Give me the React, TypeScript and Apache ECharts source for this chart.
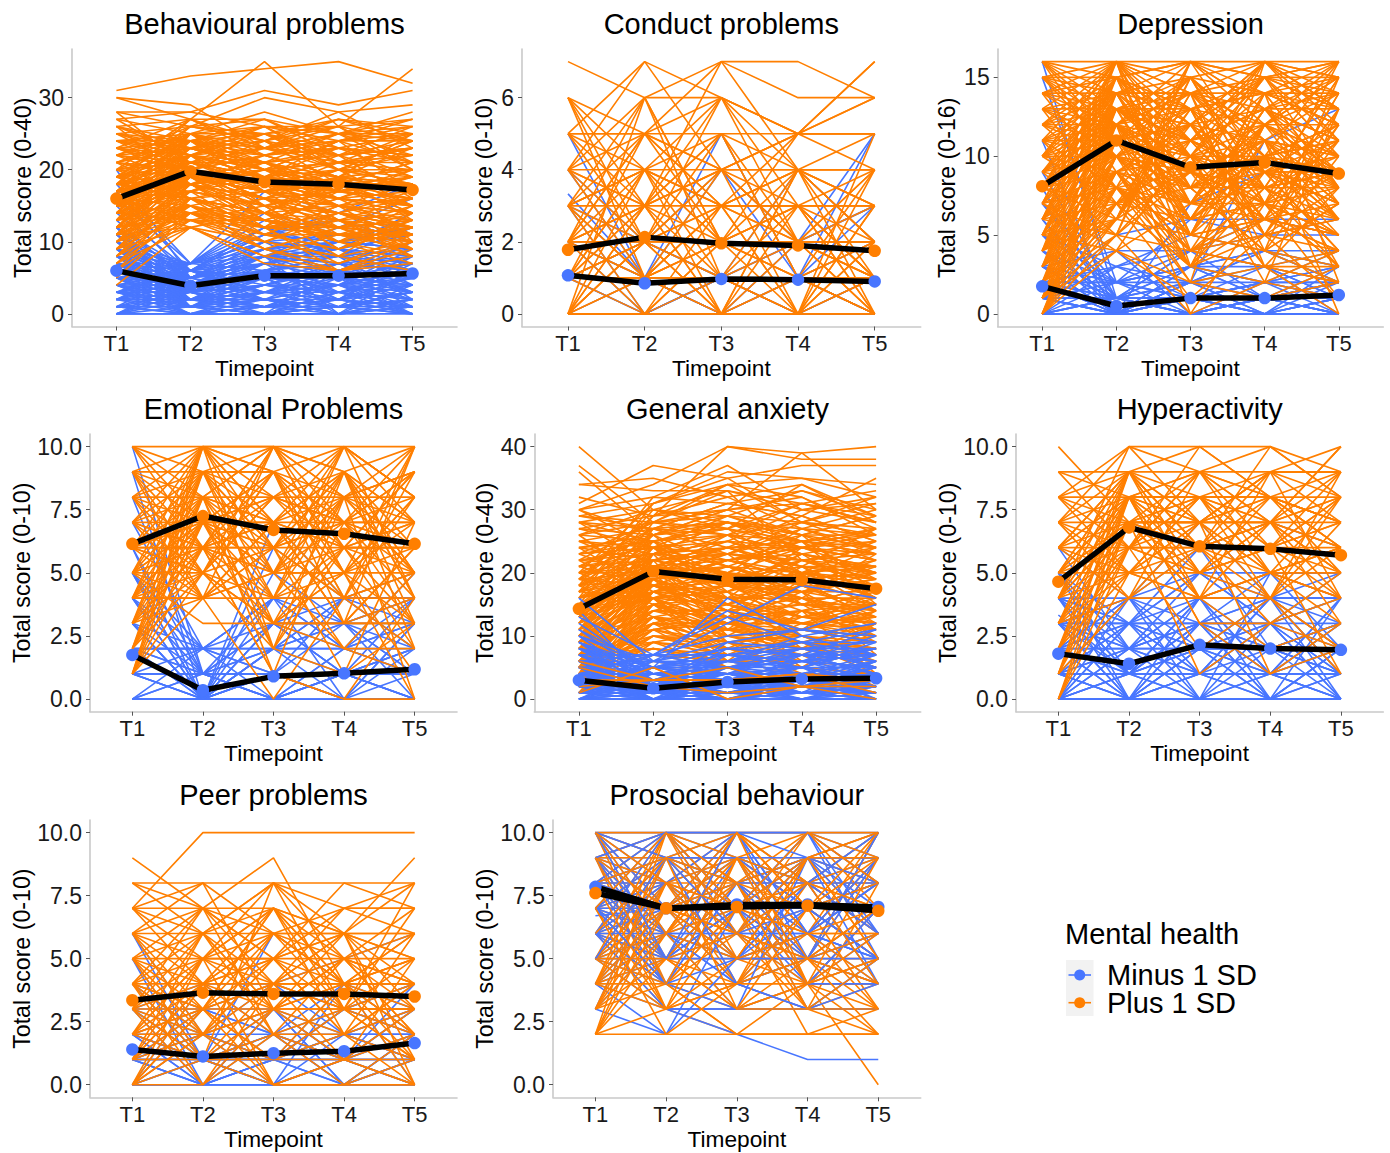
import React, { useEffect, useRef } from "react";
import * as echarts from "echarts";

const timepoints = ["T1", "T2", "T3", "T4", "T5"];
const groupNames = ["Minus 1 SD", "Plus 1 SD"];
const legendTitle = "Mental health";
const xTitle = "Timepoint";

const behaviouralMinus = [[0,0,0,0,0],[0,1,0,1,0],[1,0,1,0,1],[1,1,2,1,0],[2,0,1,1,2],[2,1,0,2,1],[3,1,2,0,1],[3,2,1,3,2],[4,1,3,2,1],[4,2,3,4,3],[5,2,4,3,5],[5,3,2,4,4],[6,3,5,4,6],[6,2,4,6,5],[7,3,6,5,4],[7,4,5,7,6],[8,3,7,6,8],[8,4,6,5,7],[9,4,8,7,6],[9,5,7,9,8],[10,4,6,8,9],[10,5,9,8,7],[11,5,8,10,9],[11,6,7,6,10],[12,5,10,9,8],[12,6,9,11,10],[13,4,7,8,12],[14,6,11,10,9],[15,5,8,12,11],[16,7,10,9,14],[17,6,12,13,10],[18,7,14,11,12],[20,5,9,10,13],[6,7,17,14,18],[5,7,13,12,16],[4,6,11,14,11],[3,5,9,7,10],[2,4,8,9,7],[1,3,5,6,9],[0,2,4,3,6],[0,3,1,2,3],[1,2,3,5,4],[2,3,6,3,2],[3,4,2,1,3],[4,3,1,5,2],[5,4,7,2,8],[6,5,3,6,1],[7,5,8,3,5],[8,6,2,4,0],[9,6,10,5,3],[10,6,3,7,4],[5,1,0,1,2],[4,0,2,0,1],[3,0,3,2,0],[2,2,5,0,4],[1,0,0,3,5],[6,1,4,2,7],[7,2,6,8,2],[8,1,5,1,3],[9,2,1,4,6],[10,3,4,3,1],[11,2,7,5,0],[12,3,0,6,3],[6,4,9,10,12],[5,5,10,11,9],[7,6,12,8,7],[8,7,11,13,10],[4,4,8,0,6],[3,3,4,7,8],[2,5,7,9,11],[0,0,1,2,1],[1,1,0,0,2],[2,2,2,1,3],[3,1,1,2,4],[4,2,0,3,0],[5,1,3,1,3],[6,2,2,0,2],[7,1,4,4,1],[8,2,3,3,4],[9,1,2,2,5],[10,2,5,4,2],[11,3,1,1,6],[12,1,6,2,4],[0,4,3,4,5],[1,4,6,7,3],[2,6,8,8,6],[3,6,5,5,7],[4,5,6,4,9],[5,6,4,7,3],[6,3,8,9,4],[7,7,9,6,8],[8,5,7,10,11],[9,7,8,5,10],[10,7,12,9,6],[0,5,2,6,7],[1,6,3,4,8],[2,7,6,10,9],[3,7,10,8,5],[4,0,0,1,1],[5,0,1,2,0]];
const behaviouralPlus = [[31,33,34,35,32],[30,29,23,25,28],[30,27,35,26,34],[28,28,31,29,31],[28,26,30,28,29],[27,25,28,25,27],[27,28,26,24,25],[26,24,25,27,24],[26,27,27,22,26],[25,26,24,28,23],[25,23,26,21,25],[24,25,23,26,24],[24,22,25,23,22],[23,27,22,24,26],[23,24,21,25,20],[22,26,24,22,23],[22,21,23,20,24],[21,25,20,24,21],[21,23,22,19,25],[20,24,19,23,22],[20,22,24,18,21],[20,21,21,22,19],[19,23,20,21,23],[19,25,18,20,18],[19,20,22,19,20],[18,22,19,24,17],[18,24,17,21,22],[18,19,21,17,19],[17,21,18,22,16],[17,23,20,18,21],[17,18,16,20,18],[16,20,19,17,20],[16,22,17,19,15],[16,19,21,16,17],[16,17,15,18,19],[15,21,18,16,14],[15,18,20,15,18],[15,20,16,17,16],[15,16,14,19,13],[14,19,17,20,15],[14,22,15,14,17],[14,17,19,13,16],[14,15,13,16,20],[13,18,16,15,12],[13,20,14,18,14],[13,16,18,12,15],[13,14,12,17,18],[12,17,15,14,13],[12,19,13,16,11],[12,15,17,11,14],[12,13,11,15,16],[11,16,14,13,12],[11,18,12,19,10],[11,14,16,10,15],[11,12,10,14,11],[10,15,13,12,13],[10,17,11,15,9],[10,13,15,9,12],[9,14,12,11,10],[9,16,10,13,8],[9,12,14,8,14],[8,15,9,12,11],[8,13,13,10,7],[7,14,11,9,12],[7,12,8,11,9],[6,16,12,7,10],[6,13,10,8,6],[5,14,9,6,8],[4,12,7,6,10],[24,21,18,16,15],[23,19,17,14,12],[22,18,14,11,9],[21,16,13,10,8],[25,20,15,13,11],[26,22,19,15,14],[19,15,11,9,13],[17,14,10,8,10],[18,16,12,6,9],[16,13,9,7,11],[15,12,8,6,7],[12,21,25,26,27],[11,20,23,27,25],[10,18,22,25,26],[13,22,26,25,24],[14,24,27,23,22],[15,23,24,26,21],[16,25,26,20,24],[17,26,25,21,23],[18,27,23,24,27],[19,26,27,25,25],[20,27,24,27,26],[21,24,26,26,20],[22,25,25,20,19],[23,22,20,17,16],[24,23,21,18,17],[25,24,22,19,18],[27,21,19,13,14],[28,20,16,12,13],[26,18,13,11,10],[15,19,17,16,15],[16,18,19,18,17],[17,20,18,17,16],[18,21,19,18,18],[14,18,16,19,17],[13,19,18,17,19],[12,20,17,18,16],[11,19,20,17,18],[15,17,20,21,20],[16,21,21,19,18],[17,19,17,15,14],[18,20,16,14,16],[19,21,19,16,15],[20,19,17,18,14],[21,20,18,16,19],[22,23,20,21,22],[23,20,22,23,21],[24,24,20,19,23],[19,22,23,22,24],[18,25,22,23,25],[17,24,23,25,22],[16,23,25,22,23],[15,25,21,23,19],[14,23,20,24,24],[13,25,23,21,21],[12,22,19,20,22],[11,22,21,22,23],[10,20,24,20,20],[9,18,19,21,17],[8,17,21,18,15],[7,16,17,15,13],[8,18,15,14,12],[9,19,14,12,11],[10,14,16,13,10],[11,15,12,12,9],[12,14,14,10,13],[13,15,11,11,12],[14,13,12,14,10],[15,14,13,11,11],[16,15,12,13,9],[17,16,14,12,8],[18,17,15,9,12],[19,18,13,10,11],[20,16,14,15,13],[21,19,16,14,12],[22,20,15,17,15],[23,21,17,16,14],[24,19,18,15,16],[25,22,20,18,17],[26,23,21,19,20]];

const conductMinus = [[5,1,1,1,5],[4,1,5,1,0],[4,2,4,2,3],[3.33,1,0,0,0],[3,1,0,1,3],[3,2,1,4,2],[2,2,1,0,0],[2,0,1,2,5],[1,0,1,1,2],[1,1,0,0,1],[1,0,0,0,0],[0,0,0,0,0],[0,0,0,1,0],[0,1,1,0,1],[2,1,4,1,1],[1,1,1,2,3],[1,2,1,1,1],[2,1,1,1,0],[0,0,1,1,1],[1,1,0,2,2],[3,0,1,1,1]];
const conductPlus = [[7,6,7,7,6],[6,5,6,5,6],[6,3,7,6,6],[6,2,4,5,7],[6,1,3,2,2],[5,7,6,5,5],[5,5,4,4,4],[5,4,2,3,1],[5,3,5,1,0],[4,7,4,3,3],[4,5,3,4,2],[4,6,2,2,4],[4,3,4,0,5],[4,2,1,3,1],[3,6,6,5,4],[3,5,7,4,5],[3,4,3,3,3],[3,4,5,2,0],[3,3,2,1,2],[3,2,0,4,4],[3,1,4,2,1],[3,0,3,0,3],[2,6,2,3,4],[2,5,4,5,5],[2,4,3,4,3],[2,3,0,3,2],[2,3,4,2,0],[2,2,2,1,1],[2,2,3,4,3],[2,1,0,1,4],[2,0,2,2,1],[2,1,3,0,2],[1,4,6,3,1],[1,4,2,0,3],[1,3,1,2,4],[1,3,3,3,0],[1,2,4,2,2],[1,2,0,0,1],[1,1,3,3,1],[1,1,2,4,2],[1,0,0,1,0],[1,5,2,2,3],[0,3,4,5,5],[0,4,3,2,2],[0,2,2,3,3],[0,2,1,0,4],[0,1,2,1,0],[0,1,0,2,1],[0,0,2,2,2],[0,3,0,0,0],[0,0,1,0,1],[0,6,1,1,0],[4,4,4,4,4],[3,3,3,3,3],[2,2,2,2,2],[1,1,1,1,1],[0,0,0,0,0],[5,5,5,5,5],[4,3,6,2,1],[6,4,1,0,2],[5,2,3,3,0],[3,1,1,4,1],[2,3,5,1,2],[0,2,5,4,3],[1,2,6,4,0],[3,4,0,4,2],[4,1,2,5,6],[2,5,3,5,7]];

const depressionMinus = [[16,1,0,0,0],[15,2,1,1,0],[11,0,0,1,2],[9,1,1,0,1],[8,0,2,2,1],[7,1,1,1,3],[7,2,0,0,0],[6,0,0,1,0],[6,1,3,2,2],[5,0,1,0,1],[5,2,2,3,1],[5,3,4,1,0],[4,1,0,0,0],[4,0,2,4,3],[4,2,1,1,2],[3,0,1,2,0],[3,1,4,3,4],[3,2,3,1,1],[3,4,0,0,2],[2,0,0,1,1],[2,1,2,0,0],[2,3,5,4,3],[2,1,0,2,2],[2,0,3,3,1],[2,2,6,5,6],[1,0,0,0,0],[1,1,1,2,3],[1,0,2,1,0],[1,2,3,4,2],[1,1,4,5,5],[1,3,1,0,1],[1,0,1,3,2],[1,5,6,6,6],[0,0,0,0,0],[0,0,1,0,0],[0,1,0,1,1],[0,0,2,4,2],[0,1,1,2,3],[0,2,4,3,0],[0,0,0,0,1],[0,1,3,2,4],[0,0,7,9,7],[0,3,2,11,13],[1,4,4,6,5],[2,2,3,4,4],[3,1,2,0,3],[0,0,3,1,2],[1,0,0,1,2],[2,0,1,1,0],[3,0,0,0,0],[4,1,1,2,1]];
const depressionPlus = [[16,16,16,16,16],[16,12,14,10,12],[16,9,7,12,15],[15,15,16,15,14],[15,14,11,13,16],[15,10,15,8,9],[14,16,13,14,15],[14,13,10,16,11],[14,8,12,7,13],[13,16,15,11,14],[13,12,16,9,10],[13,7,9,15,8],[12,15,12,16,13],[12,11,8,12,9],[12,14,6,10,16],[11,16,14,13,11],[11,13,11,9,7],[11,10,5,14,12],[11,6,13,8,15],[10,14,10,15,10],[10,12,15,11,6],[10,9,4,6,14],[10,16,7,13,8],[9,15,13,10,12],[9,11,9,7,5],[9,13,12,16,13],[9,8,3,12,16],[8,16,8,11,9],[8,12,14,5,11],[8,14,6,13,7],[8,10,11,8,15],[8,6,16,15,10],[7,13,10,9,4],[7,15,5,14,8],[7,11,12,6,12],[7,9,2,16,14],[7,5,15,7,5],[6,14,7,12,6],[6,12,13,4,10],[6,10,9,11,3],[6,16,4,8,9],[6,7,11,15,16],[5,13,14,9,7],[5,11,6,13,11],[5,15,10,3,4],[5,9,8,16,13],[5,6,12,5,8],[4,12,9,7,3],[4,14,15,10,6],[4,10,3,12,9],[4,16,11,6,14],[4,8,7,14,2],[3,11,13,8,5],[3,13,5,11,7],[3,9,10,5,12],[3,15,8,4,15],[3,7,6,13,10],[2,10,12,9,4],[2,12,4,7,8],[2,14,7,10,6],[2,8,9,15,11],[2,6,14,3,2],[1,9,11,6,5],[1,11,3,8,3],[1,13,6,12,9],[1,7,8,4,7],[1,5,10,2,13],[0,8,5,9,6],[0,10,13,5,4],[0,12,0,7,1],[0,6,9,3,8],[0,5,4,11,0],[16,15,13,14,12],[15,13,9,6,5],[14,11,6,9,7],[13,10,8,4,2],[12,8,4,3,0],[11,8,2,1,3],[10,7,1,5,6],[9,5,0,2,1],[8,7,3,6,4],[7,4,7,7,9],[6,5,9,8,10],[5,4,11,13,13],[4,7,13,15,16],[3,6,15,16,15],[2,5,16,14,14],[1,6,14,16,12],[1,8,16,13,11],[0,9,12,15,13],[0,7,10,12,10],[2,11,9,6,9],[3,12,7,10,11],[4,13,12,7,6],[5,14,8,8,5],[6,15,5,12,8],[7,16,3,9,12],[8,15,11,16,15],[9,14,14,11,7],[10,15,16,13,9],[11,14,13,5,13],[12,13,15,7,16],[13,14,7,14,8],[14,15,12,9,4],[15,16,10,11,10],[16,14,16,12,14],[12,16,12,13,15],[8,13,10,14,12],[6,11,8,10,8],[4,9,5,4,7],[9,12,6,9,11],[10,11,7,10,6],[9,13,9,10,9],[10,13,11,12,10],[8,11,10,9,8],[7,12,8,10,9],[6,13,11,9,10],[5,12,10,10,11],[4,11,12,11,10],[3,10,8,9,9],[2,9,7,8,8],[1,10,9,7,11],[0,11,10,8,9],[11,12,9,11,8],[12,10,7,6,7],[13,11,9,8,6],[14,12,8,10,5],[15,12,10,7,11],[16,13,11,9,9],[10,10,6,7,5],[9,10,5,6,4],[8,9,4,5,6],[7,8,5,4,3],[6,9,3,2,4],[5,8,6,7,3],[4,6,5,6,5],[3,8,4,3,2],[2,7,3,5,1],[1,4,2,3,3],[0,4,1,1,2],[16,11,12,15,13],[15,11,14,12,15],[14,14,14,14,13],[13,13,13,12,12],[12,12,11,13,14],[11,11,15,14,16],[10,16,14,15,15]];

const emotionalMinus = [[10,1,0,1,0],[9,0,1,0,2],[8,1,2,3,1],[7,2,0,1,4],[6,0,7,4,2],[6,1,3,2,3],[5,0,1,0,0],[5,2,4,2,5],[5,1,0,1,1],[4,0,2,3,4],[4,1,1,0,3],[4,2,3,4,2],[3,0,0,0,0],[3,1,2,1,2],[3,2,4,3,1],[3,0,1,4,3],[2,2,2,2,2],[2,0,3,1,0],[2,1,0,2,4],[2,2,4,0,1],[2,0,6,4,5],[1,0,0,1,2],[1,1,1,0,0],[1,0,3,3,3],[1,2,2,4,4],[1,1,4,2,1],[0,0,0,0,0],[0,1,0,2,1],[0,0,1,1,0],[0,0,2,0,3],[0,1,3,1,2],[0,0,5,3,4],[0,2,1,3,0],[1,0,2,2,3],[2,1,3,3,2],[3,0,4,4,4],[4,0,3,1,1],[2,2,1,1,1],[1,1,1,1,1],[0,0,0,1,0],[5,0,2,4,4]];
const emotionalPlus = [[10,10,10,10,10],[10,9,8,7,9],[10,7,5,8,6],[9,10,9,10,8],[9,8,6,4,10],[9,6,10,9,7],[9,4,7,6,5],[8,10,7,8,9],[8,9,9,5,6],[8,7,4,10,8],[8,5,8,7,4],[7,10,6,9,10],[7,8,10,6,7],[7,9,3,8,5],[7,6,7,4,9],[7,4,5,7,3],[6,10,8,5,8],[6,9,5,9,6],[6,7,9,3,10],[6,8,2,7,7],[6,5,6,10,4],[6,6,4,6,2],[6,4,10,8,5],[5,10,7,6,9],[5,8,8,9,3],[5,7,3,5,7],[5,9,9,4,5],[5,6,1,8,8],[5,5,10,7,6],[5,4,6,2,1],[4,10,5,10,7],[4,9,7,3,4],[4,8,4,8,9],[4,7,8,6,6],[4,6,10,5,8],[4,5,2,9,5],[4,4,6,7,10],[3,10,9,7,6],[3,9,4,5,3],[3,8,7,10,8],[3,7,5,2,5],[3,6,8,8,7],[3,5,3,6,9],[3,4,0,4,2],[2,9,6,9,4],[2,8,10,5,10],[2,7,7,3,6],[2,10,2,6,3],[2,6,5,8,0],[2,5,9,4,8],[1,7,8,7,5],[1,9,6,1,7],[1,5,4,9,2],[1,8,1,0,4],[1,6,3,5,1],[1,10,10,8,9],[1,4,7,3,6],[8,8,5,5,0],[9,7,3,2,2],[7,7,2,1,3],[6,5,3,3,3],[5,3,3,3,3],[10,6,9,6,7],[9,5,8,10,8],[8,6,6,8,5],[7,5,9,7,9],[6,6,7,9,7],[5,7,6,6,6],[4,7,7,7,7],[3,6,6,4,5],[2,7,9,8,10],[8,4,4,4,4],[7,6,1,0,0],[9,9,10,9,5],[10,8,7,9,4],[4,4,5,5,5],[5,6,5,6,6],[6,7,6,7,8]];

const anxietyMinus = [[0,0,0,0,0],[0,1,0,1,0],[1,0,1,0,1],[1,1,0,2,1],[1,2,1,1,0],[2,0,2,1,2],[2,1,1,3,1],[2,2,3,2,3],[2,3,2,0,1],[3,0,1,2,3],[3,1,3,1,2],[3,2,0,3,4],[3,3,4,4,2],[3,4,2,5,3],[4,1,2,4,1],[4,2,4,3,5],[4,3,1,2,4],[4,0,3,6,3],[4,5,5,1,6],[5,1,4,2,5],[5,2,3,5,2],[5,3,6,4,7],[5,4,2,7,4],[5,0,5,3,6],[6,2,5,6,4],[6,1,7,5,8],[6,3,3,4,3],[6,5,4,8,5],[6,6,8,7,6],[7,2,6,5,9],[7,4,1,3,7],[7,3,7,9,5],[7,7,5,6,8],[8,4,3,2,6],[8,2,8,7,4],[8,5,6,10,7],[8,6,4,1,2],[9,3,2,4,0],[9,1,5,8,9],[9,5,7,6,10],[10,2,4,5,8],[10,6,9,8,6],[11,3,1,3,5],[11,5,8,7,11],[12,4,6,9,7],[13,7,10,11,9],[14,2,0,1,3],[16,6,5,2,0],[2,7,14,11,15],[1,5,16,10,12],[3,6,12,18,16],[4,7,13,9,11],[0,2,9,11,10],[0,3,2,4,2],[0,4,4,2,1],[0,0,1,3,4],[1,0,3,4,6],[1,3,5,7,7],[2,4,6,8,8],[2,1,0,0,0],[3,0,0,1,1],[0,1,2,0,3],[0,2,3,5,0],[1,1,1,1,2],[1,2,2,2,2],[2,0,1,1,1],[4,1,0,0,2],[5,0,2,1,0],[6,0,1,2,1],[7,1,3,0,0],[8,1,0,3,2],[3,1,0,2,0],[0,0,2,1,1],[0,1,1,2,2],[1,0,0,1,0],[1,1,2,0,2],[1,2,0,2,1],[2,1,2,2,0],[2,2,1,0,2],[2,0,0,2,3],[3,1,2,3,1],[3,2,1,1,2],[4,2,2,1,3],[4,1,1,3,2],[5,2,1,4,3],[6,1,3,2,5],[7,3,2,3,4],[8,3,5,4,3],[9,4,3,6,5],[10,5,4,7,4],[2,3,4,3,4],[3,4,5,6,7],[4,5,7,8,6],[5,6,6,7,8],[6,7,7,6,7],[1,4,3,5,5],[0,5,6,4,6],[1,6,5,5,3],[2,5,3,6,5],[3,5,8,9,9]];
const anxietyPlus = [[40,30,28,25,23],[37,28,34,32,27],[36,26,30,39,30],[34,33,33,31,33],[34,35,32,34,28],[32,29,40,38,38],[31,37,35,37,37],[30,34,40,39,40],[30,32,37,30,31],[29,27,31,29,35],[29,31,35,28,32],[28,30,29,33,30],[28,25,27,34,29],[27,29,32,27,26],[27,24,25,30,28],[26,28,26,25,27],[26,30,33,22,24],[25,27,24,29,25],[25,23,28,23,21],[24,26,30,26,22],[24,22,23,28,26],[23,25,22,24,20],[23,28,27,20,25],[22,24,29,25,19],[22,21,20,27,23],[21,23,25,21,27],[21,26,21,18,18],[20,22,24,24,22],[20,25,19,26,17],[20,20,26,19,24],[19,27,23,22,21],[19,24,18,17,20],[19,18,22,25,15],[18,21,24,20,19],[18,23,20,16,23],[18,26,17,23,16],[17,20,19,21,14],[17,22,23,15,18],[17,25,16,24,25],[16,19,21,18,13],[16,24,18,14,17],[16,21,15,22,20],[15,23,22,19,12],[15,18,17,13,16],[15,20,14,21,19],[14,22,20,17,11],[14,19,16,12,15],[14,17,13,20,22],[13,21,19,16,10],[13,24,15,18,14],[13,16,12,11,18],[12,20,18,15,13],[12,18,14,10,9],[12,23,11,19,17],[11,17,16,13,12],[11,19,13,9,8],[11,22,10,16,16],[10,18,15,12,11],[10,16,12,17,7],[10,21,17,8,14],[9,15,11,14,10],[9,20,9,11,13],[9,17,19,10,6],[8,14,13,15,9],[8,19,10,7,12],[8,16,8,13,15],[7,13,12,9,5],[7,15,7,12,11],[7,18,14,6,8],[6,12,9,10,7],[6,14,11,8,10],[6,16,6,14,4],[5,11,8,7,6],[5,13,10,11,9],[5,15,13,5,12],[4,10,7,9,4],[4,12,6,6,7],[4,9,5,8,10],[3,8,6,6,5],[3,11,9,4,3],[3,5,4,3,2],[2,7,5,7,6],[2,10,8,5,8],[2,3,1,2,1],[1,5,0,2,0],[1,6,4,5,3],[2,2,3,4,4],[26,18,14,12,10],[25,20,16,13,15],[24,17,12,10,8],[23,19,15,11,9],[22,16,11,9,7],[21,18,13,14,12],[20,15,10,8,10],[19,16,9,7,6],[18,13,8,9,5],[28,21,18,16,14],[30,24,21,17,19],[11,25,28,26,29],[10,24,26,31,28],[9,23,28,27,30],[12,27,31,33,29],[13,28,33,30,32],[14,26,29,28,31],[15,29,30,32,26],[16,31,34,35,34],[17,30,27,31,28],[18,32,31,29,25],[19,29,34,28,24],[20,31,36,35,32],[21,27,28,24,27],[22,28,30,31,29],[15,21,20,19,17],[16,20,18,20,18],[17,19,21,17,19],[18,22,19,21,16],[14,21,18,19,20],[13,20,21,18,16],[12,19,22,20,18],[11,21,19,22,19],[10,20,23,21,21],[9,19,20,24,23],[8,18,22,19,17],[7,17,18,23,20],[6,18,19,17,21],[5,17,21,20,16],[4,16,20,18,22],[3,14,17,22,18],[2,13,15,19,15],[3,15,16,16,13],[4,14,14,15,14],[5,12,11,13,11],[6,11,12,12,13],[7,10,10,11,10],[8,12,9,10,8],[9,13,10,9,12],[10,14,13,12,9],[11,15,12,14,15],[12,16,15,11,14],[13,17,14,16,12],[14,16,18,13,13],[15,17,19,15,15],[16,18,16,17,17],[17,16,17,20,16],[18,19,15,18,14],[19,20,16,19,18],[20,21,22,23,20],[21,22,23,22,23],[22,23,24,20,21],[23,24,21,25,24],[24,25,26,23,25],[25,24,23,27,24],[26,25,27,24,22],[27,26,28,26,26],[28,27,26,28,27],[29,28,29,26,29],[30,26,27,25,26],[8,21,25,24,26],[7,20,24,25,23],[6,19,23,26,24],[5,22,26,23,21],[4,23,25,22,19],[3,21,24,21,20],[2,19,22,24,22],[2,17,20,15,18],[1,15,18,17,15],[1,12,15,13,12],[1,9,11,11,9],[2,11,13,14,11],[3,12,12,8,7],[4,13,11,10,6],[5,10,9,6,5],[6,9,8,5,4],[7,8,6,4,3],[8,9,7,8,5],[9,11,5,7,6],[10,13,6,9,8],[5,8,7,8,9],[6,8,5,7,2],[4,7,6,7,6]];
const anxietyPlusOver = [[2,3,5,2,2],[1,5,0,2,0],[3,3,3,4,3],[6,3,3,4,1],[5,2,1,2,3]];

const hyperMinus = [[6,4,7,4,2],[6,2,3,1,0],[5,3,5,3,5],[5,1,2,0,1],[5,0,4,2,3],[4,4,6,7,6],[4,3,1,3,2],[4,2,3,5,4],[4,1,0,1,0],[4,0,2,4,1],[3.33,1,2,3,4],[3,4,4,4,4],[3,3,2,2,3],[3,2,0,0,2],[3,1,3,4,1],[3,0,1,1,3],[3,4,5,5,5],[3,3,4,0,0],[2,4,3,3,4],[2,3,6,2,1],[2,2,1,4,3],[2,1,4,1,2],[2,0,2,3,0],[2,3,0,5,5],[2,2,3,0,2],[1,4,2,2,3],[1,3,3,1,4],[1,2,5,3,1],[1,1,1,0,0],[1,0,0,2,2],[1,2,4,4,0],[1,1,2,1,1],[1,3,1,3,3],[1,0,3,0,4],[0,3,3,2,1],[0,2,2,4,5],[0,1,0,0,0],[0,0,1,1,2],[0,0,0,0,0],[0,4,1,0,1],[0,1,3,3,0],[0,2,4,1,3],[0,3,5,4,4],[0,0,2,2,1],[1,1,4,5,2],[2,1,1,2,0],[3,0,0,3,1],[4,1,3,2,3],[2,0,3,4,2],[1,0,1,4,4],[3,2,1,1,1],[5,2,2,1,4],[4,3,2,0,2],[2,4,0,1,0],[0,1,1,1,1]];
const hyperPlus = [[10,7,8,8,7],[9,8,6,7,9],[9,6,9,6,8],[8,10,10,10,8],[8,9,7,9,10],[8,8,9,5,6],[8,6,5,8,7],[8,5,8,7,5],[7,10,9,9,9],[7,9,8,6,8],[7,7,6,10,9],[7,8,4,9,4],[7,5,7,5,3],[7,4,9,8,6],[6,9,10,8,7],[6,8,8,7,5],[6,7,5,4,9],[6,5,7,9,8],[6,9,6,6,4],[6,4,4,5,6],[5,9,7,9,9],[5,8,9,8,7],[5,7,6,6,6],[5,6,8,4,8],[5,5,4,7,3],[5,8,3,3,5],[4,10,7,7,10],[4,9,9,7,8],[4,8,5,6,7],[4,7,7,5,5],[4,6,10,8,6],[4,5,6,9,9],[4,7,1,3,2],[3,8,8,9,9],[3,9,5,7,4],[3,7,4,4,6],[3,6,9,7,8],[3,5,8,6,5],[3,8,3,1,3],[3,4,6,8,7],[2,9,4,5,4],[2,8,6,4,7],[2,7,9,10,8],[2,6,7,8,5],[2,5,5,7,6],[2,8,7,1,2],[1,7,8,5,8],[1,9,5,6,9],[1,8,4,2,3],[1,6,6,3,4],[1,4,7,7,7],[0,7,6,7,6],[0,8,8,8,6],[0,6,5,6,1],[0,5,4,5,4],[1,7,4,4,2],[2,6,2,4,1],[6,6,6,6,7],[5,7,7,7,5],[7,6,8,5,4],[8,7,7,4,2],[9,9,6,5,6],[4,8,8,8,9],[5,9,6,7,10],[6,8,7,8,8],[3,7,7,9,7]];

const peerMinus = [[6,2,1,2,1],[6,1,0,0,2],[5,1,2,1,0],[5,0,1,0,1],[4,3,2,3,2],[4,1,6,4,4],[4,2,1,1,3],[3,2,0,2,3],[3,4,4,5,6],[3,1,3,1,1],[3,0,1,3,4],[3,3,2,0,0],[2,1,2,2,2],[2,2,1,1,1],[2,0,3,1,2],[2,3,4,2,3],[2,1,0,4,3],[1,2,2,0,1],[1,1,1,3,4],[1,0,0,1,2],[1,3,3,2,1],[1,1,2,4,2],[1,2,4,3,3],[0,0,0,0,0],[0,1,1,2,1],[0,0,2,1,0],[0,2,3,0,2],[0,1,0,1,3],[0,0,1,0,0],[0,4,2,1,4],[0,3,1,3,2],[1,0,1,1,0],[2,0,0,0,0],[1,1,0,0,1],[0,0,0,1,1],[3,1,1,2,2],[2,1,1,4,0],[1,0,3,0,2]];
const peerPlus = [[9,7,9,4,6],[8,8,8,8,8],[8,7,5,7,7],[8,6,8,5,4],[7,10,10,10,10],[7,7,7,6,9],[7,8,6,7,8],[7,5,7,4,5],[7,6,3,3,3],[7,4,5,8,7],[6,6,6,6,6],[6,7,4,5,4],[6,8,3,4,2],[6,5,8,3,5],[6,4,7,6,8],[6,3,5,2,3],[6,2,4,7,7],[5,6,7,4,4],[5,5,5,5,5],[5,7,2,3,1],[5,4,6,6,6],[5,3,4,1,2],[5,2,3,5,4],[5,1,8,7,6],[4,6,8,6,5],[4,5,3,4,4],[4,4,4,4,3],[4,7,6,5,2],[4,3,7,2,6],[4,2,5,3,7],[4,1,0,0,1],[4,0,3,6,0],[3,7,5,6,3],[3,6,2,1,0],[3,5,4,3,2],[3,4,3,5,6],[3,3,3,3,3],[3,2,6,4,5],[3,1,4,6,4],[3,0,2,2,1],[2,6,3,5,7],[2,5,6,4,0],[2,4,2,0,2],[2,3,1,4,5],[2,2,5,6,1],[2,3,7,3,4],[2,1,3,2,0],[2,5,0,1,3],[1,6,4,3,8],[1,5,7,5,3],[1,4,5,2,4],[1,3,6,4,2],[1,2,3,1,5],[1,1,1,1,1],[1,4,0,0,0],[0,5,5,4,6],[0,4,6,3,3],[0,3,4,6,5],[0,2,1,2,4],[0,1,2,5,2],[0,3,0,1,0],[0,0,4,4,1],[0,2,0,0,0],[4,3,1,3,1]];

const prosocialMinus = [[10,10,10,10,10],[10,9,8,9,9],[10,8,6,5,7],[10,7,9,8,10],[10,6,7,4,6],[9,10,8,9,8],[9,9,10,8,9],[9,8,7,10,5],[9,7,5,6,4],[9,6,4,7,7],[9,5,9,5,10],[9,4,8,3,5],[8,10,9,7,8],[8,9,6,8,6],[8,8,10,6,9],[8,7,8,9,7],[8,6,5,5,4],[8,5,7,10,8],[8,4,3,4,5],[7,10,7,9,9],[7,9,9,6,5],[7,8,5,8,8],[7,7,7,7,7],[7,6,10,5,6],[7,5,6,9,10],[7,4,4,3,3],[6.7,7,8,6,5],[6,9,7,10,9],[6,8,9,7,8],[6,7,4,5,4],[6,6,6,9,6],[6,5,8,4,7],[6,4,9,8,10],[6,3,3,3,3],[5,8,5,7,5],[5,7,10,6,8],[5,6,3,9,9],[5,5,7,5,6],[5,4,8,8,4],[5,3,2,1,1],[4,8,6,6,5],[4,7,9,4,7],[4,6,4,5,9],[4,5,5,8,6],[4,3,3,3,5],[4,2,7,9,8],[3,9,8,5,10],[3,6,6,7,5],[3,2,5,5,5],[10,9,9,9,4],[9,10,6,6,8],[8,9,4,3,4],[7,4,5,6,9],[6,10,10,10,6],[5,9,6,4,4],[10,5,10,9,9]];
const prosocialPlus = [[10,10,10,10,10],[10,9,9,8,7],[10,7,6,7,5],[10,5,8,6,10],[10,4,3,5,3],[9,10,7,9,9],[9,9,9,9,9],[9,8,10,7,8],[9,6,5,4,0],[9,5,7,8,6],[9,3,4,3,4],[8,10,8,10,8],[8,8,8,8,8],[8,7,6,5,7],[8,6,9,7,5],[8,5,4,6,3],[8,4,7,2,2],[7,9,10,8,10],[7,8,5,9,6],[7,7,7,7,7],[7,6,8,5,9],[7,5,3,4,4],[7,4,6,3,3],[7,3,2,2,3],[6,10,9,6,8],[6,9,6,10,7],[6,8,4,7,5],[6,7,8,9,10],[6,6,5,6,6],[6,5,10,8,9],[6,4,7,5,4],[6,3,3,4,2],[5,9,8,4,7],[5,10,5,9,5],[5,8,9,6,9],[5,7,4,8,4],[5,6,7,3,8],[5,5,5,5,5],[5,4,2,4,3],[4,10,7,8,6],[4,9,4,5,10],[4,8,6,9,8],[4,7,10,7,3],[4,6,3,3,2],[4,5,8,4,5],[4,4,4,4,4],[3,9,7,6,7],[3,8,5,5,6],[3,7,9,10,9],[3,5,6,8,4],[3,4,2,2,2],[2,10,8,7,8],[2,8,7,9,5],[2,6,9,4,9],[2,5,3,3,3],[2,3,5,6,6],[2,2,2,2,2],[9,7,5,9,10],[8,9,3,7,9],[7,10,6,4,6],[6,9,8,3,5],[5,3,4,9,9],[10,8,7,10,8],[9,4,9,5,7],[8,3,7,6,4],[7,2,4,5,2],[4,3,9,8,7],[3,6,10,7,10],[2,7,6,5,4],[10,6,10,4,5]];

const meanBehaviouralMinus = [6, 3.9, 5.3, 5.3, 5.6];
const meanBehaviouralPlus = [16, 19.8, 18.3, 18, 17.2];
const meanConductMinus = [1.07, 0.85, 0.97, 0.95, 0.9];
const meanConductPlus = [1.78, 2.13, 1.96, 1.9, 1.75];
const meanDepressionMinus = [1.75, 0.5, 1, 1, 1.2];
const meanDepressionPlus = [8.1, 11, 9.3, 9.6, 8.9];
const meanEmotionalMinus = [1.75, 0.35, 0.9, 1.02, 1.18];
const meanEmotionalPlus = [6.15, 7.25, 6.7, 6.55, 6.15];
const meanAnxietyMinus = [3, 1.7, 2.7, 3.2, 3.3];
const meanAnxietyPlus = [14.3, 20.2, 19, 18.9, 17.5];
const meanHyperMinus = [1.8, 1.4, 2.15, 2, 1.95];
const meanHyperPlus = [4.65, 6.8, 6.05, 5.95, 5.7];
const meanPeerMinus = [1.4, 1.12, 1.25, 1.33, 1.65];
const meanPeerPlus = [3.35, 3.65, 3.6, 3.6, 3.5];
const meanProsocialMinus = [7.85, 7, 7.15, 7.15, 7.05];
const meanProsocialPlus = [7.6, 7, 7.05, 7.1, 6.9];

const ticks35 = [0, 10, 20, 30];
const ticks7 = [0, 2, 4, 6];
const ticks16 = [0, 5, 10, 15];
const ticks10 = [0, 2.5, 5, 7.5, 10];
const ticks40 = [0, 10, 20, 30, 40];

const BLUE = "#4876FF";
const ORANGE = "#FF7F00";
const FONT = "'Liberation Sans', Arial, Helvetica, sans-serif";
const INK = "#1a1a1a";

const panels = [
  { title: "Behavioural problems", yName: "Total score (0-40)", minus: behaviouralMinus, plus: behaviouralPlus, meanMinus: meanBehaviouralMinus, meanPlus: meanBehaviouralPlus, ticks: ticks35, digits: 0, yMin: -1.75, yMax: 36.75, box: [72, 457, 49, 326.5], gap: 38 },
  { title: "Conduct problems", yName: "Total score (0-10)", minus: conductMinus, plus: conductPlus, meanMinus: meanConductMinus, meanPlus: meanConductPlus, ticks: ticks7, digits: 0, yMin: -0.35, yMax: 7.35, box: [522, 920.7, 49, 326.5], gap: 27 },
  { title: "Depression", yName: "Total score (0-16)", minus: depressionMinus, plus: depressionPlus, meanMinus: meanDepressionMinus, meanPlus: meanDepressionPlus, ticks: ticks16, digits: 0, yMin: -0.8, yMax: 16.8, box: [997.7, 1383.3, 49, 326.5], gap: 39 },
  { title: "Emotional Problems", yName: "Total score (0-10)", minus: emotionalMinus, plus: emotionalPlus, meanMinus: meanEmotionalMinus, meanPlus: meanEmotionalPlus, ticks: ticks10, digits: 1, yMin: -0.5, yMax: 10.5, box: [90, 457, 434, 711.7], gap: 57 },
  { title: "General anxiety", yName: "Total score (0-40)", minus: anxietyMinus, plus: anxietyPlus, over: anxietyPlusOver, meanMinus: meanAnxietyMinus, meanPlus: meanAnxietyPlus, ticks: ticks40, digits: 0, yMin: -2, yMax: 42, box: [534.3, 920.7, 434, 711.7], gap: 38 },
  { title: "Hyperactivity", yName: "Total score (0-10)", minus: hyperMinus, plus: hyperPlus, meanMinus: meanHyperMinus, meanPlus: meanHyperPlus, ticks: ticks10, digits: 1, yMin: -0.5, yMax: 10.5, box: [1016, 1383.3, 434, 711.7], gap: 57 },
  { title: "Peer problems", yName: "Total score (0-10)", minus: peerMinus, plus: peerPlus, meanMinus: meanPeerMinus, meanPlus: meanPeerPlus, ticks: ticks10, digits: 1, yMin: -0.5, yMax: 10.5, box: [90, 457, 820, 1097.3], gap: 57 },
  { title: "Prosocial behaviour", yName: "Total score (0-10)", minus: prosocialMinus, plus: prosocialPlus, meanMinus: meanProsocialMinus, meanPlus: meanProsocialPlus, ticks: ticks10, digits: 1, yMin: -0.5, yMax: 10.5, box: [553, 920.7, 820, 1097.3], gap: 57, interleave: true },
];

const toPoints = (row: number[]) => row.map((v, i) => [i + 1, v]);

function traceSeries(row: number[], color: string, name: string, idx: number) {
  return {
    type: "line", name, xAxisIndex: idx, yAxisIndex: idx, data: toPoints(row),
    symbol: "none", silent: true, z: 2,
    lineStyle: { color, width: 1.6 },
  };
}

function meanSeries(row: number[], color: string, name: string, idx: number, z: number) {
  return {
    type: "line", name: name + " mean", xAxisIndex: idx, yAxisIndex: idx, data: toPoints(row),
    symbol: "circle", symbolSize: 12.5, showSymbol: true, showAllSymbols: true, silent: true, z,
    clip: false,
    lineStyle: { color: "#000", width: 5.5 },
    itemStyle: { color },
  };
}

function buildOption() {
  const grid: any[] = [], xAxis: any[] = [], yAxis: any[] = [], title: any[] = [], series: any[] = [];
  panels.forEach((p: any, idx) => {
    const [l, r, t, b] = p.box;
    grid.push({ left: l, top: t, width: r - l, height: b - t, containLabel: false });
    title.push({
      text: p.title, left: (l + r) / 2 - 5, top: t - 45, textAlign: "center",
      textStyle: { fontFamily: FONT, fontSize: 29, fontWeight: "normal", color: "#000" },
    });
    xAxis.push({
      type: "value", gridIndex: idx, min: 0.4, max: 5.6, name: xTitle, nameLocation: "middle", nameGap: 30,
      nameTextStyle: { fontFamily: FONT, fontSize: 22.7, color: "#000" },
      splitLine: { show: false },
      axisLine: { show: true, onZero: false, lineStyle: { color: "#c9c9c9", width: 1.6 } },
      axisTick: { show: true, length: 4, customValues: [1, 2, 3, 4, 5], lineStyle: { color: "#555", width: 1 } },
      axisLabel: { customValues: [1, 2, 3, 4, 5], margin: 6, fontFamily: FONT, fontSize: 22, color: INK, formatter: (v: number) => timepoints[v - 1] },
    });
    yAxis.push({
      type: "value", gridIndex: idx, min: p.yMin, max: p.yMax, name: p.yName, nameLocation: "middle", nameGap: p.gap,
      nameTextStyle: { fontFamily: FONT, fontSize: 23.2, color: "#000" },
      splitLine: { show: false },
      axisLine: { show: true, onZero: false, lineStyle: { color: "#c9c9c9", width: 1.6 } },
      axisTick: { show: true, length: 4, customValues: p.ticks, lineStyle: { color: "#555", width: 1 } },
      axisLabel: { customValues: p.ticks, margin: 8, fontFamily: FONT, fontSize: 23, color: INK, formatter: (v: number) => v.toFixed(p.digits) },
    });
    if (p.interleave) {
      const n = Math.max(p.minus.length, p.plus.length);
      for (let i = 0; i < n; i++) {
        if (p.minus[i]) series.push(traceSeries(p.minus[i], BLUE, groupNames[0], idx));
        if (p.plus[i]) series.push(traceSeries(p.plus[i], ORANGE, groupNames[1], idx));
      }
    } else if (p.over) {
      p.plus.forEach((row: number[]) => series.push(traceSeries(row, ORANGE, groupNames[1], idx)));
      p.minus.forEach((row: number[]) => series.push(traceSeries(row, BLUE, groupNames[0], idx)));
      p.over.forEach((row: number[]) => series.push(traceSeries(row, ORANGE, groupNames[1], idx)));
    } else {
      p.minus.forEach((row: number[]) => series.push(traceSeries(row, BLUE, groupNames[0], idx)));
      p.plus.forEach((row: number[]) => series.push(traceSeries(row, ORANGE, groupNames[1], idx)));
    }
    series.push(meanSeries(p.meanMinus, BLUE, groupNames[0], idx, 5));
    series.push(meanSeries(p.meanPlus, ORANGE, groupNames[1], idx, 6));
  });

  const graphic = [
    { type: "rect", shape: { x: 1066, y: 960, width: 27.5, height: 56 }, style: { fill: "#F2F2F2" } },
    { type: "line", shape: { x1: 1068.5, y1: 975, x2: 1091, y2: 975 }, style: { stroke: BLUE, lineWidth: 1.6 } },
    { type: "circle", shape: { cx: 1079.7, cy: 975, r: 5.5 }, style: { fill: BLUE } },
    { type: "line", shape: { x1: 1068.5, y1: 1002.7, x2: 1091, y2: 1002.7 }, style: { stroke: ORANGE, lineWidth: 1.6 } },
    { type: "circle", shape: { cx: 1079.7, cy: 1002.7, r: 5.5 }, style: { fill: ORANGE } },
    { type: "text", x: 1065, y: 934, style: { text: legendTitle, font: `29px ${FONT}`, fill: "#000", verticalAlign: "middle" } },
    { type: "text", x: 1107, y: 975, style: { text: groupNames[0], font: `29px ${FONT}`, lineHeight: 27, fill: "#000", verticalAlign: "middle" } },
    { type: "text", x: 1107, y: 1003, style: { text: groupNames[1], font: `29px ${FONT}`, lineHeight: 27, fill: "#000", verticalAlign: "middle" } },
  ];

  return { animation: false, backgroundColor: "#fff", grid, xAxis, yAxis, title, series, graphic, tooltip: { show: false } };
}

export default function App() {
  const ref = useRef<HTMLDivElement>(null);
  useEffect(() => {
    const chart = echarts.init(ref.current!, undefined, { renderer: "svg" });
    chart.setOption(buildOption() as any);
    return () => chart.dispose();
  }, []);
  return <div ref={ref} style={{ position: "absolute", left: 0, top: 0, width: 1390, height: 1153 }} />;
}
